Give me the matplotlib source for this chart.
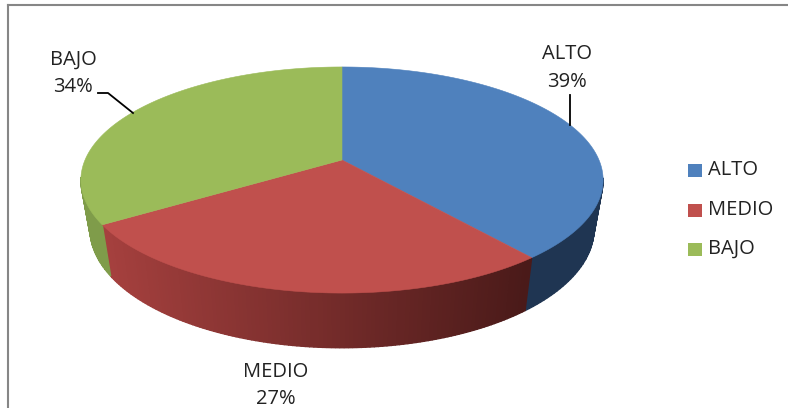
import numpy as np
from matplotlib import pyplot as plt
from matplotlib.colors import to_rgb
from matplotlib.patches import Polygon, Rectangle

labels = ['ALTO', 'MEDIO', 'BAJO']
values = [39, 27, 34]
colors = ['#4f81bd', '#c0504d', '#9bbb59']
side_left = ['#1f3552', '#a5403e', '#7f9c4a']
side_right = ['#1f3552', '#4a1a19', '#8ba650']

plt.rcParams['font.family'] = ['Open Sans', 'DejaVu Sans']

fig = plt.figure(figsize=(7.88, 4.08), dpi=100)
ax = fig.add_axes([0, 0, 1, 1])
ax.set_xlim(0, 788)
ax.set_ylim(408, 0)
ax.axis('off')

# perspective of the pie disc, in pixels
cx, cy = 342, 160
k = 0.177
R, B = 257, 109.5
R2, cy2, B2 = 248, 208, 115


def top_rim(t):
    u, v = np.sin(t), -np.cos(t)
    w = 1 - k * v
    return cx + R * u / w, cy + B * v / w


def low_rim(t):
    u, v = np.sin(t), -np.cos(t)
    w = 1 - k * v
    return cx + R2 * u / w, cy2 + B2 * v / w


def mix(a, b, f):
    a = np.array(to_rgb(a))
    b = np.array(to_rgb(b))
    return a + (b - a) * f


ang = np.cumsum([0] + values) / sum(values) * 2 * np.pi

# side wall, only the front shows
for i in range(len(values)):
    ts = np.linspace(ang[i], ang[i + 1], 120)
    for a, b in zip(ts[:-1], ts[1:]):
        if np.cos((a + b) / 2) > -0.15:
            continue
        xa, ya = top_rim(a)
        xb, yb = top_rim(b)
        xc, yc = low_rim(b)
        xd, yd = low_rim(a)
        f = np.clip((xa - 106) / (529 - 106), 0, 1)
        col = mix(side_left[i], side_right[i], f)
        ax.add_patch(Polygon([(xa, ya), (xb, yb), (xc, yc), (xd, yd)], facecolor=col, edgecolor=col, lw=1.0))

# top face
for i in range(len(values)):
    ts = np.linspace(ang[i], ang[i + 1], 200)
    xs, ys = top_rim(ts)
    pts = [(cx, cy)] + list(zip(xs, ys))
    ax.add_patch(Polygon(pts, facecolor=colors[i], edgecolor=colors[i], lw=0.4))

# frame, the crop has no right side
ax.plot([8, 8], [408, 5], color='#868686', lw=1.5)
ax.plot([8, 788], [5, 5], color='#868686', lw=1.5)

# data labels
fs = 14.5
tc = '#222222'
ax.text(567, 54, labels[0], ha='center', va='center', fontsize=fs, color=tc)
ax.text(567, 82, f'{values[0]}%', ha='center', va='center', fontsize=fs, color=tc)
ax.text(276, 372, labels[1], ha='center', va='center', fontsize=fs, color=tc)
ax.text(276, 399, f'{values[1]}%', ha='center', va='center', fontsize=fs, color=tc)
ax.text(73, 60, labels[2], ha='center', va='center', fontsize=fs, color=tc)
ax.text(73, 87, f'{values[2]}%', ha='center', va='center', fontsize=fs, color=tc)

# leader lines
ax.plot([98, 108, 133], [93, 93, 113], color='black', lw=1.3)
ax.plot([570, 570], [95, 125], color='black', lw=1.3)

# legend
for lab, col, y in zip(labels, colors, [170, 210, 249]):
    ax.add_patch(Rectangle((688, y - 6.5), 14, 13, facecolor=col, edgecolor='none'))
    ax.text(708, y, lab, ha='left', va='center', fontsize=fs, color=tc)

fig.savefig('out.png', dpi=100)
